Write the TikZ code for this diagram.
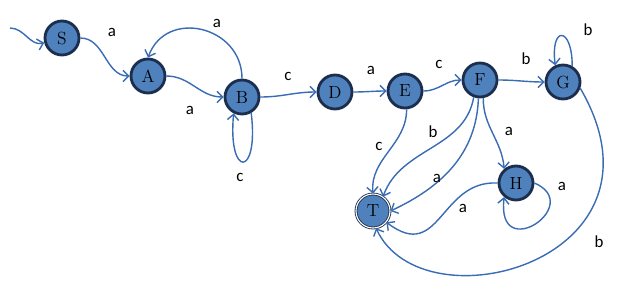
\documentclass[tikz,border=0pt]{standalone}
\usepackage{fontspec}
\newfontfamily\lblfont{Carlito}
\usepackage{xcolor}
\usetikzlibrary{arrows.meta}
\definecolor{statefill}{RGB}{79,129,189}
\definecolor{stateline}{RGB}{28,46,78}
\definecolor{transblue}{RGB}{58,108,180}

\begin{document}
\begin{tikzpicture}[
    x=0.025cm, y=-0.025cm,
    state/.style={draw=stateline, circle, line width=2pt, fill=statefill, minimum size=0.85cm, inner sep=0pt, font=\fontsize{12.5}{14}\selectfont},
    final/.style={state, line width=0.6pt, double=white, double distance=0.8pt},
    trans/.style={-{Straight Barb[length=4pt,width=8pt]}, draw=transblue, line width=1pt},
    lbl/.style={font=\lblfont\fontsize{12}{14}\selectfont, inner sep=0pt}
]
\useasboundingbox (0,0) rectangle (622,290);

% States
\node[state] (S) at (62,38) {S};
\node[state] (A) at (148,76) {A};
\node[state] (B) at (242,97) {B};
\node[state] (D) at (335,92) {D};
\node[state] (E) at (405,91) {E};
\node[state] (F) at (480,80) {F};
\node[state] (G) at (563,82) {G};
\node[state] (H) at (516,183) {H};
\node[final] (T) at (373,211) {T};
\coordinate (start) at (10,28);

% Transitions
\draw[trans] (start) to[out=0,in=195] (S);
\draw[trans] (S) to[out=0,in=180] (A);
\draw[trans] (A) to[out=0,in=180] (B);
\draw[trans] (B.north) to[out=90,in=70,looseness=1.4] (A.north);
\draw[trans] (B.-60) .. controls +(8,65) and +(-6,65) .. (B.-117);
\draw[trans] (B) to[out=0,in=180] (D);
\draw[trans] (D) to[out=0,in=180] (E);
\draw[trans] (E) to[out=0,in=180] (F);
\draw[trans] (F) to[out=0,in=180] (G);
\draw[trans] (G.60) .. controls +(0,-40) and +(-5,-40) .. (G.115);
\draw[trans] (E.-85) to[out=-90,in=95] (T.north);
\draw[trans] (F.-110) to[out=-100,in=70] (T.55);
\draw[trans] (F.-95) to[out=-92,in=25] (T.east);
\draw[trans] (F.-80) to[out=-90,in=95] (H.130);
\draw[trans] (H.west) .. controls +(-58,-3) and +(54,41) .. (T.-40);
\draw[trans] (H.east) .. controls +(51,22) and +(-8,68) .. (H.-130);
\draw[trans] (G.-20) .. controls +(100,172) and +(47,101) .. (T.-80);

% Labels
\node[lbl] (lSA) at (112,32) {a};
\node[lbl] (lAB) at (190,110) {a};
\node[lbl] (lBA) at (217,23) {a};
\node[lbl] (lBB) at (240,177) {c};
\node[lbl] (lBD) at (288,76) {c};
\node[lbl] (lDE) at (371,70) {a};
\node[lbl] (lEF) at (439,64) {c};
\node[lbl] (lFG) at (526,59) {b};
\node[lbl] (lGG) at (588,30) {b};
\node[lbl] (lET) at (379,146) {c};
\node[lbl] (lFTb) at (433,132) {b};
\node[lbl] (lFTa) at (437,178) {a};
\node[lbl] (lFH) at (509,131) {a};
\node[lbl] (lHT) at (463,208) {a};
\node[lbl] (lHH) at (562,186) {a};
\node[lbl] (lGT) at (599,242) {b};
\end{tikzpicture}
\end{document}
